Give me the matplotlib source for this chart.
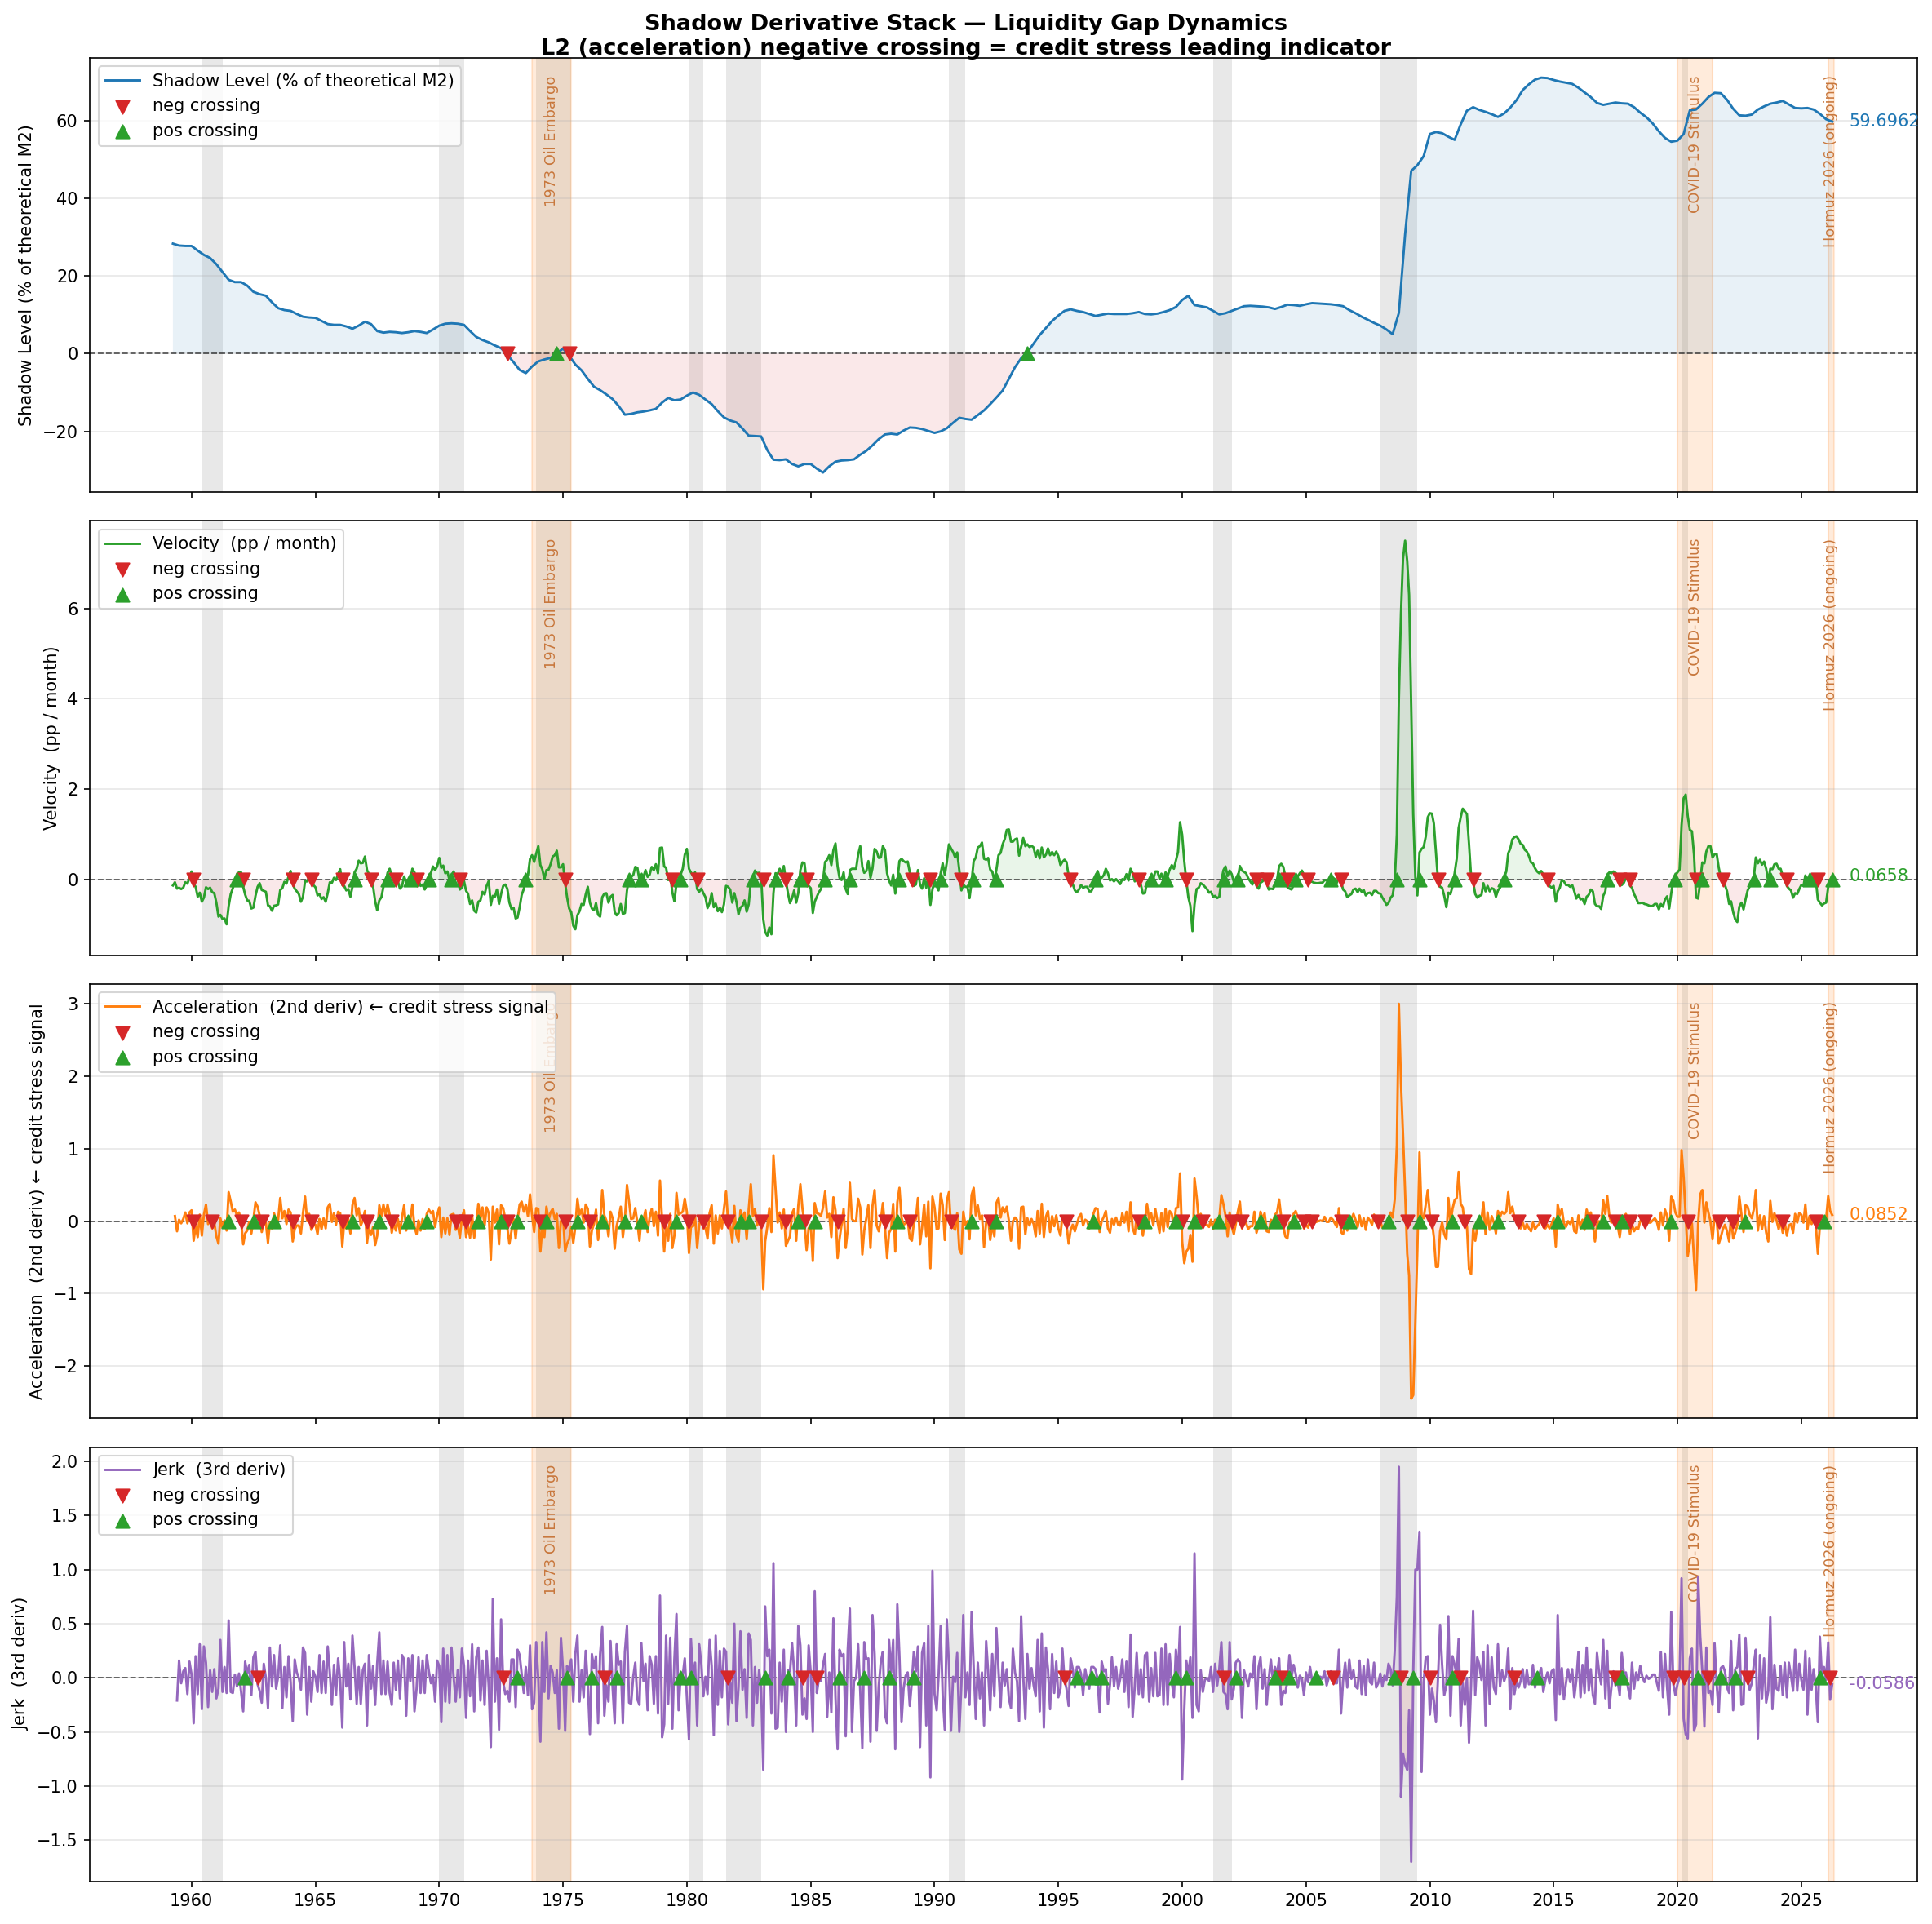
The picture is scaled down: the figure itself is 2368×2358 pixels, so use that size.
import matplotlib
matplotlib.use("Agg")
import matplotlib.pyplot as plt
import matplotlib.dates as mdates
import numpy as np
import pandas as pd

# ---- shadow level (% of theoretical M2), quarterly from 1959-04 ----
lvl_1950s = [28.3, 27.8, 27.7]
lvl_1960s = [27.7, 26.5, 25.4, 24.6, 23.0, 21.0, 19.0, 18.4, 18.4, 17.5, 15.9, 15.3,
             14.9, 13.2, 11.7, 11.2, 11.0, 10.2, 9.5, 9.3, 9.2, 8.4, 7.6, 7.4,
             7.4, 7.0, 6.4, 7.2, 8.2, 7.6, 5.8, 5.4, 5.6, 5.5, 5.3, 5.5,
             5.8, 5.6, 5.3, 6.2]
lvl_1970s = [7.2, 7.7, 7.8, 7.7, 7.4, 5.8, 4.3, 3.5, 2.9, 2.1, 1.4, -0.3,
             -2.2, -4.2, -5.0, -3.3, -2.0, -1.5, -1.1, 0.1, 1.3, -0.5, -2.8, -4.3,
             -6.5, -8.5, -9.4, -10.5, -11.7, -13.5, -15.7, -15.5, -15.1, -14.9, -14.6, -14.2,
             -12.6, -11.4, -12.0, -11.8]
lvl_1980s = [-10.8, -10.0, -10.6, -11.8, -13.0, -14.8, -16.4, -17.2, -17.7, -19.3, -21.1, -21.2,
             -21.3, -24.8, -27.3, -27.4, -27.2, -28.4, -29.0, -28.4, -28.4, -29.6, -30.6, -29.0,
             -27.8, -27.5, -27.4, -27.2, -26.0, -25.0, -23.6, -22.0, -20.8, -20.6, -20.8, -19.8,
             -19.0, -19.1, -19.4, -19.9]
lvl_1990s = [-20.4, -20.0, -19.2, -17.8, -16.5, -16.8, -17.0, -15.8, -14.6, -13.0, -11.3, -9.5,
             -6.5, -3.5, -1.2, 0.3, 2.6, 4.8, 6.6, 8.4, 9.8, 11.0, 11.4, 11.0,
             10.7, 10.2, 9.7, 10.0, 10.3, 10.2, 10.2, 10.2, 10.4, 10.7, 10.2, 10.1,
             10.3, 10.7, 11.2, 12.0]
lvl_2000s = [13.8, 14.9, 12.5, 12.2, 11.9, 11.0, 10.1, 10.4, 11.0, 11.6, 12.2, 12.3,
             12.2, 12.1, 11.9, 11.5, 12.0, 12.6, 12.5, 12.3, 12.7, 13.0, 12.9, 12.8,
             12.7, 12.5, 12.2, 11.2, 10.4, 9.5, 8.7, 7.9, 7.2, 6.2, 5.0, 10.5,
             30.7, 47.0, 48.5, 50.8]
lvl_2010s = [56.5, 57.0, 56.7, 55.8, 55.0, 59.0, 62.5, 63.4, 62.7, 62.2, 61.6, 60.9,
             61.8, 63.3, 65.2, 67.8, 69.3, 70.5, 71.0, 70.9, 70.4, 70.0, 69.7, 69.4,
             68.4, 67.2, 66.0, 64.5, 64.0, 64.3, 64.6, 64.4, 64.3, 63.4, 62.0, 60.8,
             59.2, 57.2, 55.5, 54.5]
lvl_2020s = [54.8, 56.5, 62.6, 62.8, 64.3, 66.0, 67.1, 67.0, 65.3, 63.0, 61.3, 61.2,
             61.5, 62.8, 63.6, 64.3, 64.6, 65.0, 64.1, 63.2, 63.1, 63.2, 62.8, 61.7,
             60.3, 59.6962]

# ---- velocity (pp / month), monthly from 1959-04 ----
vel_1950s = [-0.13, -0.06, -0.20, -0.18, -0.21, -0.18, -0.06, -0.09, 0.03]
vel_1960s = [0.18, -0.09, -0.16, -0.38, -0.29, -0.49, -0.40, -0.17, -0.21, -0.18, -0.28, -0.30,
             -0.51, -0.82, -0.78, -0.87, -0.86, -0.99, -0.59, -0.32, -0.19, -0.03, 0.05, 0.17,
             0.16, -0.16, -0.33, -0.46, -0.47, -0.64, -0.62, -0.36, -0.16, -0.08, -0.23, -0.25,
             -0.27, -0.57, -0.59, -0.69, -0.58, -0.57, -0.55, -0.23, -0.19, -0.05, -0.09, 0.07,
             0.19, -0.09, -0.20, -0.26, -0.32, -0.49, -0.38, -0.04, -0.04, 0.06, -0.06, -0.12,
             -0.17, -0.35, -0.32, -0.43, -0.39, -0.49, -0.30, -0.06, -0.07, 0.04, -0.01, 0.12,
             0.23, -0.12, -0.14, -0.24, -0.21, -0.38, -0.16, 0.16, 0.24, 0.42, 0.36, 0.37,
             0.51, 0.21, 0.12, -0.07, -0.15, -0.48, -0.68, -0.46, -0.39, -0.16, -0.08, 0.15,
             0.24, 0.08, 0.06, -0.07, -0.04, -0.20, -0.15, 0.07, -0.06, -0.01, 0.01, 0.24,
             0.16, -0.02, -0.01, -0.14, -0.11, -0.22, -0.12, 0.04, 0.15, 0.29, 0.21, 0.29]
vel_1970s = [0.48, 0.26, 0.31, 0.14, 0.18, -0.01, 0.08, 0.18, 0.06, 0.01, -0.22, -0.18,
             -0.03, -0.25, -0.31, -0.54, -0.46, -0.69, -0.73, -0.49, -0.46, -0.27, -0.33, -0.14,
             -0.03, -0.56, -0.36, -0.38, -0.22, -0.54, -0.32, -0.14, -0.11, -0.20, -0.51, -0.65,
             -0.62, -0.86, -0.84, -0.61, -0.34, -0.21, 0.02, 0.09, 0.46, 0.54, 0.39, 0.57,
             0.74, 0.32, 0.23, 0.01, 0.21, 0.22, 0.34, 0.51, 0.54, 0.64, 0.27, 0.27,
             0.34, -0.08, -0.39, -0.64, -0.72, -1.02, -1.10, -0.79, -0.70, -0.54, -0.56, -0.33,
             -0.16, -0.51, -0.64, -0.68, -0.52, -0.78, -0.82, -0.39, -0.31, -0.30, -0.51, -0.38,
             -0.34, -0.72, -0.79, -0.74, -0.54, -0.76, -0.74, -0.24, 0.03, 0.06, 0.10, 0.28,
             0.26, -0.01, 0.04, 0.06, 0.21, 0.06, 0.11, 0.28, 0.21, 0.34, 0.14, 0.70,
             0.71, 0.29, 0.26, -0.01, 0.09, -0.28, -0.48, -0.09, 0.00, 0.11, 0.24, 0.55]
vel_1980s = [0.68, 0.24, 0.16, 0.09, 0.16, -0.21, -0.27, -0.20, -0.30, -0.39, -0.63, -0.52,
             -0.30, -0.61, -0.53, -0.70, -0.62, -0.72, -0.55, -0.14, -0.16, -0.22, -0.51, -0.30,
             -0.49, -0.77, -0.62, -0.58, -0.46, -0.71, -0.55, -0.04, 0.03, 0.20, 0.14, 0.15,
             0.06, -0.88, -1.16, -1.24, -1.06, -1.21, -0.30, 0.14, 0.12, 0.24, 0.14, 0.30,
             -0.04, -0.31, -0.52, -0.41, -0.24, -0.51, -0.30, 0.21, 0.38, 0.36, -0.04, -0.14,
             -0.19, -0.74, -0.49, -0.38, -0.28, -0.21, -0.02, 0.39, 0.44, 0.54, 0.32, 0.65,
             0.80, 0.29, 0.04, -0.01, 0.16, -0.21, -0.32, 0.21, 0.24, 0.24, 0.24, 0.55,
             0.74, 0.28, 0.15, 0.19, 0.41, 0.04, 0.25, 0.68, 0.62, 0.48, 0.49, 0.74,
             0.65, 0.14, -0.02, -0.13, 0.11, -0.31, -0.05, 0.41, 0.46, 0.41, 0.38, 0.40,
             0.16, -0.11, -0.14, -0.11, 0.21, -0.11, -0.20, 0.03, -0.18, 0.09, -0.56, -0.22]
vel_1990s = [-0.03, -0.14, -0.24, 0.14, 0.36, 0.10, 0.38, 0.78, 0.69, 0.61, 0.49, 0.60,
             0.21, -0.24, -0.11, -0.16, -0.16, -0.41, -0.05, 0.41, 0.49, 0.71, 0.74, 0.82,
             0.46, 0.44, 0.48, 0.22, 0.18, -0.03, 0.22, 0.54, 0.59, 0.78, 0.90, 1.10,
             1.11, 0.84, 0.84, 0.89, 0.91, 0.53, 0.72, 0.92, 0.74, 0.78, 0.72, 0.75,
             0.71, 0.50, 0.64, 0.47, 0.71, 0.49, 0.55, 0.69, 0.54, 0.61, 0.54, 0.62,
             0.52, 0.32, 0.39, 0.44, 0.39, 0.08, -0.05, -0.10, -0.24, -0.28, -0.22, -0.12,
             -0.18, -0.16, -0.16, -0.26, -0.26, -0.16, 0.02, 0.19, 0.04, 0.04, 0.10, 0.24,
             0.14, -0.02, 0.01, -0.04, 0.01, -0.04, -0.10, 0.01, -0.01, 0.12, -0.02, 0.24,
             0.14, -0.04, 0.01, -0.09, -0.11, -0.31, -0.30, -0.06, -0.04, 0.07, 0.01, 0.18,
             0.18, 0.02, 0.13, -0.01, 0.16, 0.08, 0.22, 0.32, 0.24, 0.42, 0.61, 1.27]
vel_2000s = [0.99, 0.41, -0.01, -0.39, -0.58, -1.14, -0.55, -0.21, -0.18, -0.08, -0.11, -0.16,
             -0.21, -0.29, -0.27, -0.38, -0.36, -0.41, -0.38, -0.02, 0.21, 0.29, 0.08, 0.20,
             0.12, -0.06, -0.10, 0.03, 0.30, 0.20, 0.17, 0.14, 0.03, -0.04, -0.11, 0.02,
             -0.14, -0.20, -0.07, -0.04, 0.07, -0.07, -0.22, -0.20, -0.21, -0.12, 0.00, 0.30,
             0.35, 0.28, 0.07, -0.17, -0.20, -0.22, -0.12, 0.02, 0.07, 0.14, 0.20, 0.10,
             0.05, -0.04, -0.03, -0.05, -0.07, -0.08, -0.08, -0.07, -0.07, -0.01, -0.02, -0.03,
             0.02, 0.04, 0.01, -0.07, 0.11, -0.04, -0.22, -0.26, -0.39, -0.35, -0.32, -0.22,
             -0.20, -0.28, -0.20, -0.27, -0.23, -0.35, -0.30, -0.29, -0.34, -0.25, -0.25, -0.30,
             -0.31, -0.40, -0.47, -0.56, -0.52, -0.40, -0.35, -0.05, 1.00, 4.00, 5.90, 7.10,
             7.50, 7.05, 6.30, 3.85, 1.45, 0.05, -0.35, 0.60, 0.68, 0.72, 0.95, 1.38]
vel_2010s = [1.47, 1.46, 1.24, 0.61, -0.02, -0.16, -0.18, -0.36, -0.61, -0.29, -0.32, -0.15,
             0.14, 0.46, 1.14, 1.38, 1.57, 1.51, 1.45, 0.79, 0.06, -0.05, -0.32, -0.40,
             -0.36, -0.34, -0.08, -0.26, -0.14, -0.26, -0.19, -0.21, -0.38, -0.24, -0.18, -0.05,
             0.05, 0.18, 0.58, 0.69, 0.89, 0.94, 0.96, 0.89, 0.79, 0.77, 0.66, 0.62,
             0.52, 0.38, 0.36, 0.25, 0.18, 0.14, 0.19, 0.11, 0.01, -0.04, -0.14, -0.18,
             -0.14, -0.49, -0.26, -0.18, -0.01, -0.04, -0.12, -0.12, -0.16, -0.12, -0.26, -0.42,
             -0.34, -0.44, -0.42, -0.54, -0.38, -0.34, -0.22, -0.26, -0.54, -0.59, -0.59, -0.65,
             -0.36, -0.26, 0.09, 0.16, 0.14, 0.18, 0.15, 0.09, -0.13, -0.12, -0.07, 0.03,
             0.04, -0.14, -0.18, -0.32, -0.41, -0.52, -0.52, -0.51, -0.54, -0.55, -0.57, -0.59,
             -0.58, -0.54, -0.54, -0.66, -0.54, -0.60, -0.44, -0.37, -0.64, -0.30, -0.02, 0.10]
vel_2020s = [0.16, 0.22, 1.20, 1.80, 1.88, 1.40, 1.10, 1.07, 0.55, -0.40, -0.42, -0.05,
             0.38, 0.36, 0.62, 0.74, 0.74, 0.49, 0.56, 0.57, 0.26, 0.04, -0.07, -0.12,
             -0.26, -0.54, -0.48, -0.72, -0.88, -0.94, -0.60, -0.51, -0.66, -0.44, -0.24, -0.15,
             -0.11, 0.06, 0.49, 0.36, 0.44, 0.33, 0.40, 0.24, -0.04, 0.24, 0.23, 0.34,
             0.35, 0.24, 0.24, 0.08, 0.06, -0.14, -0.20, -0.24, -0.40, -0.30, -0.32, -0.21,
             -0.12, -0.14, 0.09, -0.02, 0.05, 0.01, 0.05, 0.01, -0.44, -0.51, -0.57, -0.53,
             -0.51, -0.1632, -0.0194, 0.0658]

# ---- shaded periods ----
recession_starts = ["1960-06", "1970-01", "1973-12", "1980-02", "1981-08",
                    "1990-08", "2001-04", "2008-01", "2020-03"]
recession_ends = ["1961-04", "1971-01", "1975-05", "1980-09", "1983-01",
                  "1991-04", "2002-01", "2009-07", "2020-06"]
event_names = ["1973 Oil Embargo", "COVID-19 Stimulus", "Hormuz 2026 (ongoing)"]
event_starts = ["1973-10", "2020-01", "2026-02"]
event_ends = ["1975-05", "2021-06", "2026-05"]

NEG = "#d62728"
POS = "#2ca02c"
EVENT_TXT = "#c8773c"

level = np.array(lvl_1950s + lvl_1960s + lvl_1970s + lvl_1980s + lvl_1990s
                 + lvl_2000s + lvl_2010s + lvl_2020s)
quarters = pd.date_range("1959-04-01", periods=len(level), freq="3MS")

velocity = np.array(vel_1950s + vel_1960s + vel_1970s + vel_1980s + vel_1990s
                    + vel_2000s + vel_2010s + vel_2020s)
months = pd.date_range("1959-04-01", periods=len(velocity), freq="MS")

# higher derivatives: month-over-month differences
accel = np.diff(velocity)
jerk = np.diff(accel)


def crossings(x, hold):
    """zero crossings whose new sign persists for `hold` samples"""
    neg, pos = [], []
    for i in range(1, len(x)):
        nxt = x[i:i + hold]
        if x[i - 1] >= 0 and np.all(nxt < 0):
            neg.append(i)
        if x[i - 1] <= 0 and np.all(nxt > 0):
            pos.append(i)
    return np.array(neg, dtype=int), np.array(pos, dtype=int)


panels = [
    (quarters, level, "#1f77b4", "Shadow Level (% of theoretical M2)", 2),
    (months, velocity, "#2ca02c", "Velocity  (pp / month)", 3),
    (months[1:], accel, "#ff7f0e", "Acceleration  (2nd deriv) \u2190 credit stress signal", 3),
    (months[2:], jerk, "#9467bd", "Jerk  (3rd deriv)", 3),
]

fig, axes = plt.subplots(4, 1, figsize=(2368 / 150, 2358 / 150), dpi=150, sharex=True)
fig.subplots_adjust(left=0.0465, right=0.9924, top=0.9699, bottom=0.0221, hspace=0.066)

for ax, (d, y, c, label, hold) in zip(axes, panels):
    for s, e in zip(recession_starts, recession_ends):
        ax.axvspan(pd.Timestamp(s), pd.Timestamp(e), color="grey", alpha=0.18, lw=0, zorder=0)
    for name, s, e in zip(event_names, event_starts, event_ends):
        s, e = pd.Timestamp(s), pd.Timestamp(e)
        ax.axvspan(s, e, color="#ff7f0e", alpha=0.15, zorder=0)
        ax.text(s + (e - s) / 2, 0.96, name, transform=ax.get_xaxis_transform(),
                rotation=90, ha="center", va="top", fontsize=8.5, color=EVENT_TXT)

    ax.fill_between(d, y, 0, where=y >= 0, color=c, alpha=0.1, interpolate=True, lw=0)
    ax.fill_between(d, y, 0, where=y < 0, color=NEG, alpha=0.1, interpolate=True, lw=0)
    ax.plot(d, y, color=c, lw=1.4, label=label, zorder=3)
    ax.axhline(0, color="black", ls="--", lw=0.9, alpha=0.6, zorder=2)

    neg, pos = crossings(y, hold)
    ax.scatter(d[neg], np.zeros(len(neg)), marker="v", s=60, color=NEG, zorder=5, label="neg crossing")
    ax.scatter(d[pos], np.zeros(len(pos)), marker="^", s=60, color=POS, zorder=5, label="pos crossing")

    ax.annotate(f"{y[-1]:.4f}", xy=(d[-1], y[-1]), xytext=(10, 0), textcoords="offset points",
                va="center", ha="left", color=c, fontsize=10)

    ax.set_ylabel(label)
    ax.grid(axis="y", alpha=0.3)
    ax.legend(loc="upper left")

axes[-1].xaxis.set_major_locator(mdates.YearLocator(5))
axes[-1].xaxis.set_major_formatter(mdates.DateFormatter("%Y"))

fig.suptitle("Shadow Derivative Stack \u2014 Liquidity Gap Dynamics\n"
             "L2 (acceleration) negative crossing = credit stress leading indicator",
             fontsize=13, fontweight="bold", y=0.993)

fig.savefig("out.png", dpi=150)
